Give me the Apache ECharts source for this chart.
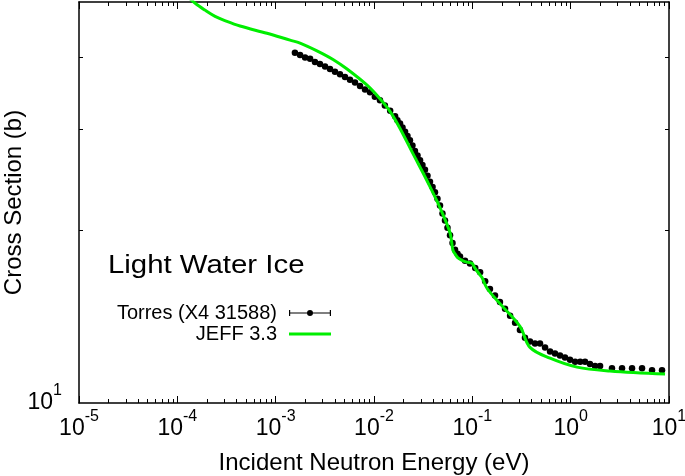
<!DOCTYPE html>
<html><head><meta charset="utf-8">
<script src="https://cdn.jsdelivr.net/npm/echarts@6/dist/echarts.min.js"></script>
<style>html,body{margin:0;padding:0;background:#fff}#c{width:685px;height:476px}</style>
</head><body><div id="c"></div>
<script>
// Torres (X4 31588) measured points: energy (eV) and cross section (b)
const torresE = [1.57e-3,1.77e-3,1.99e-3,2.24e-3,2.51e-3,2.82e-3,3.18e-3,3.57e-3,4.01e-3,4.51e-3,
  5.07e-3,5.70e-3,6.41e-3,7.21e-3,8.10e-3,9.11e-3,1.02e-2,1.15e-2,1.29e-2,1.46e-2,
  1.64e-2,1.73e-2,1.84e-2,1.95e-2,2.07e-2,2.19e-2,2.32e-2,2.46e-2,2.61e-2,2.77e-2,
  2.94e-2,3.11e-2,3.30e-2,3.50e-2,3.71e-2,3.94e-2,4.17e-2,4.42e-2,4.69e-2,4.97e-2,
  5.27e-2,5.59e-2,5.93e-2,6.29e-2,6.67e-2,7.07e-2,7.49e-2,8.43e-2,9.47e-2,0.107,
  0.120,0.135,0.151,0.170,0.191,0.215,0.242,0.272,0.305,0.343,
  0.386,0.434,0.488,0.549,0.617,0.693,0.779,0.876,0.985,1.11,
  1.25,1.40,1.57,1.77,1.99,2.63,3.33,4.21,5.32,6.72,8.49];
const torresSigma = [40.8,40.4,40.0,39.8,39.3,39.0,38.6,38.2,37.8,37.4,
  37.0,36.6,36.2,35.7,35.2,34.8,34.2,33.7,33.0,32.3,
  31.6,31.1,30.7,30.2,29.7,29.2,28.7,28.1,27.5,27.0,
  26.5,26.0,25.5,24.9,24.3,23.8,23.3,22.7,22.1,21.4,
  20.8,20.2,19.6,19.0,18.5,18.2,18.0,17.7,17.5,17.2,
  16.9,16.3,15.8,15.4,15.0,14.6,14.2,13.8,13.4,13.0,
  12.8,12.7,12.7,12.5,12.3,12.2,12.1,12.0,11.9,11.8,
  11.8,11.8,11.7,11.6,11.6,11.5,11.5,11.5,11.5,11.4,11.4];
// JEFF 3.3 evaluated curve
const jeffE = [1e-5,2e-5,5e-5,1e-4,1.51e-4,1.91e-4,2.42e-4,3.05e-4,4.34e-4,8.16e-4,
  1.40e-3,1.77e-3,2.63e-3,3.83e-3,5.32e-3,8.50e-3,1.15e-2,1.46e-2,1.84e-2,2.49e-2,
  3.46e-2,4.69e-2,5.93e-2,6.36e-2,6.82e-2,7.15e-2,7.85e-2,8.82e-2,9.92e-2,0.106,
  0.114,0.125,0.141,0.191,0.305,0.386,0.617,1.16,2.51,9.12];
const jeffSigma = [72,66,58,52.9,49.8,48.4,47.2,46.4,45.4,44.1,
  42.9,42.4,41.1,39.7,38.2,35.8,33.9,32.2,30.1,27.2,
  24.4,21.9,19.8,18.45,18.09,17.9,17.73,17.6,17.52,17.2,
  16.9,16.56,15.85,14.9,13.6,12.5,11.97,11.55,11.37,11.23];
// axis ticks
const xTickExponents = [-5,-4,-3,-2,-1,0,1];
const xMinorMultipliers = [2,3,4,5,6,7,8,9];
const yLabelValues = [10];
const yMinorTicks = [20,30,40];
const seriesNames = ['Torres (X4 31588)','JEFF 3.3'];
const titleText = 'Light Water Ice';
const xAxisTitle = 'Incident Neutron Energy (eV)';
const yAxisTitle = 'Cross Section (b)';

const FONT = '"Liberation Sans", Arial, Helvetica, sans-serif';
const xMajor = xTickExponents.map(e => Math.pow(10, e));
const xMinor = [];
xTickExponents.slice(0, -1).forEach(e => xMinorMultipliers.forEach(m => xMinor.push(m * Math.pow(10, e))));

function powLabel(v) {
  const l = Math.log10(v);
  const e = Math.round(l);
  if (Math.abs(l - e) > 1e-6) return '';
  return '{b|10}{s|' + e + '}';
}
const rich = {
  b: {fontSize: 23, fontFamily: FONT, color: '#000', lineHeight: 31, verticalAlign: 'bottom'},
  s: {fontSize: 16, fontFamily: FONT, color: '#000', lineHeight: 16, verticalAlign: 'top'}
};
const lineCol = '#000';
const common = {type: 'log', logBase: 10, splitLine: {show: false}, minorTick: {show: false}, minorSplitLine: {show: false}, nameMoveOverlap: false};
function xAx(pos, major, showLine, withLabels) {
  return Object.assign({}, common, {
    gridIndex: 0, position: pos, min: 1e-5, max: 10,
    axisLine: {show: showLine, onZero: false, lineStyle: {color: lineCol, width: 1.5}},
    axisTick: {show: true, inside: true, length: major ? 7 : 4, customValues: major ? xMajor : xMinor, lineStyle: {color: lineCol, width: 1}},
    axisLabel: withLabels ? {show: true, customValues: xMajor, formatter: powLabel, rich: rich, margin: 6} : {show: false},
    name: withLabels ? xAxisTitle : '', nameLocation: 'middle', nameGap: 48,
    nameTextStyle: {fontSize: 24, fontFamily: FONT, color: '#000'}
  });
}
function yAx(pos, withLabels) {
  return Object.assign({}, common, {
    gridIndex: 0, position: pos, min: 10, max: 50,
    axisLine: {show: true, onZero: false, lineStyle: {color: lineCol, width: 1.5}},
    axisTick: {show: true, inside: true, length: 4, customValues: yMinorTicks, lineStyle: {color: lineCol, width: 1}},
    axisLabel: withLabels ? {show: true, customValues: yLabelValues, formatter: powLabel, rich: rich, margin: 17, padding: [0, 0, 9, 0]} : {show: false},
    name: withLabels ? yAxisTitle : '', nameLocation: 'middle', nameRotate: 90, nameGap: 53,
    nameTextStyle: {fontSize: 24, fontFamily: FONT, color: '#000'}
  });
}
const iconTorres = 'path://M0,2.4H42V3.6H0Z M0,0H1.2V6H0Z M40.8,0H42V6H40.8Z M24,3A3,3 0 1 1 18,3A3,3 0 1 1 24,3Z';
const iconJeff = 'path://M0,1.5H42V4.5H0Z M0,0H0.01V0.01H0Z M0,5.99H0.01V6H0Z';
const GREEN = '#00ee00';

const chart = echarts.init(document.getElementById('c'), null, {renderer: 'canvas'});
chart.setOption({
  animation: false,
  backgroundColor: '#fff',
  grid: {left: 79, right: 16, top: 2, bottom: 73, containLabel: false, outerBoundsMode: 'none'},
  xAxis: [xAx('bottom', true, true, true), xAx('bottom', false, false, false), xAx('top', true, true, false), xAx('top', false, false, false)],
  yAxis: [yAx('left', true), yAx('right', false)],
  legend: {
    orient: 'vertical', align: 'right', right: 354, top: 303, padding: 0,
    itemWidth: 42, itemHeight: 6, itemGap: 1,
    formatter: n => '{t|' + n + '}',
    textStyle: {rich: {t: {fontSize: 20, fontFamily: FONT, color: '#000', lineHeight: 19, padding: [0, 7, 0, 0]}}},
    data: [{name: seriesNames[0], icon: iconTorres, itemStyle: {color: '#000'}},
           {name: seriesNames[1], icon: iconJeff, itemStyle: {color: GREEN, borderWidth: 0}}]
  },
  graphic: [{
    type: 'text', x: 108, y: 265.5, scaleX: 1.13, z: 10,
    style: {text: titleText, font: '26px ' + FONT, fill: '#000', align: 'left', verticalAlign: 'middle'}
  }],
  series: [
    {name: seriesNames[0], type: 'scatter', xAxisIndex: 0, yAxisIndex: 0, symbol: 'circle', symbolSize: 6.5,
     itemStyle: {color: '#000', opacity: 1}, z: 2, data: torresE.map((e, i) => [e, torresSigma[i]])},
    {name: seriesNames[1], type: 'line', xAxisIndex: 0, yAxisIndex: 0, showSymbol: false, symbol: 'none', smooth: 0.35,
     lineStyle: {color: GREEN, width: 3, opacity: 1}, itemStyle: {color: GREEN}, z: 3, clip: true,
     data: jeffE.map((e, i) => [e, jeffSigma[i]])}
  ]
});
</script></body></html>
